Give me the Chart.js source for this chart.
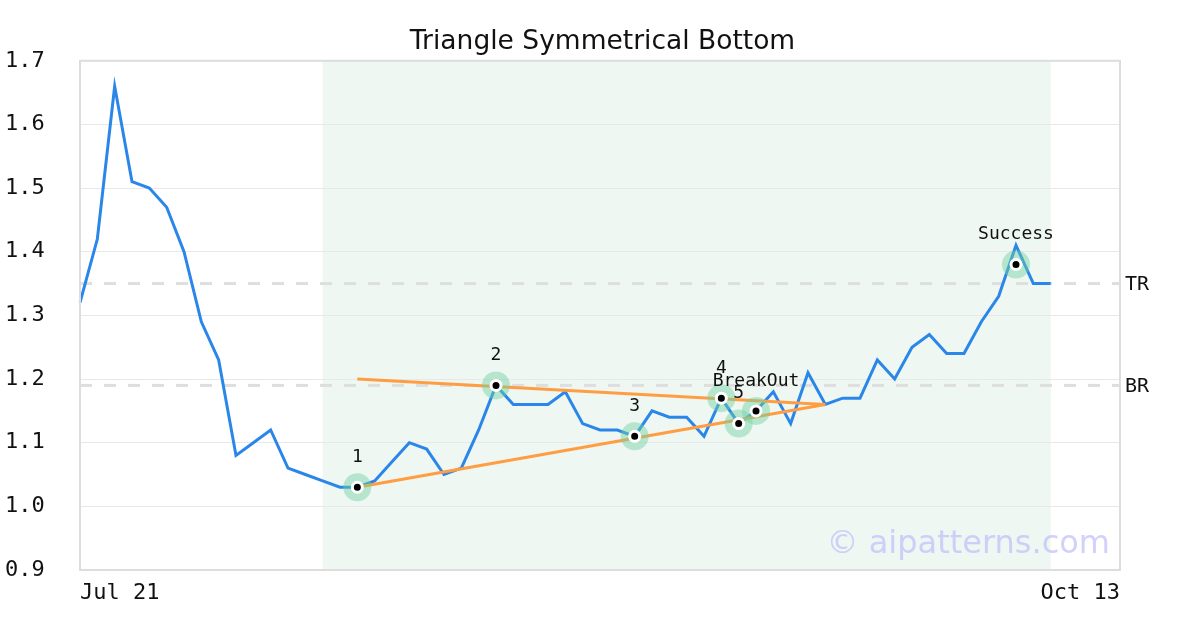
<!DOCTYPE html>
<html>
<head>
<meta charset="utf-8">
<script src="https://cdn.jsdelivr.net/npm/chart.js@4.4.1/dist/chart.umd.min.js"></script>
<style>
  html, body { margin: 0; padding: 0; background: #fff; }
</style>
</head>
<body>
<canvas id="myChart" width="1200" height="630"></canvas>
<script>
// trading days on the x axis
var dates = [
  'Jul 21','Jul 22','Jul 23','Jul 26','Jul 27','Jul 28','Jul 29','Jul 30',
  'Aug 2','Aug 3','Aug 4','Aug 5','Aug 6','Aug 9','Aug 10','Aug 11','Aug 12','Aug 13',
  'Aug 16','Aug 17','Aug 18','Aug 19','Aug 20','Aug 23','Aug 24','Aug 25','Aug 26','Aug 27',
  'Aug 30','Aug 31','Sep 1','Sep 2','Sep 3','Sep 6','Sep 7','Sep 8','Sep 9','Sep 10',
  'Sep 13','Sep 14','Sep 15','Sep 16','Sep 17','Sep 20','Sep 21','Sep 22','Sep 23','Sep 24',
  'Sep 27','Sep 28','Sep 29','Sep 30','Oct 1','Oct 4','Oct 5','Oct 6','Oct 7','Oct 8',
  'Oct 11','Oct 12','Oct 13'
];

// price
var prices = [
  1.32, 1.42, 1.66, 1.51, 1.50, 1.47, 1.40, 1.29, 1.23, 1.08,
  1.10, 1.12, 1.06, 1.05, 1.04, 1.03, 1.03, 1.04, 1.07, 1.10,
  1.09, 1.05, 1.06, 1.12, 1.19, 1.16, 1.16, 1.16, 1.18, 1.13,
  1.12, 1.12, 1.11, 1.15, 1.14, 1.14, 1.11, 1.17, 1.13, 1.15,
  1.18, 1.13, 1.21, 1.16, 1.17, 1.17, 1.23, 1.20, 1.25, 1.27,
  1.24, 1.24, 1.29, 1.33, 1.41, 1.35, 1.35
];

// pattern points
var markerIdx = [16, 24, 32, 37, 38, 39, 54];
var markerVal = [1.03, 1.19, 1.11, 1.17, 1.13, 1.15, 1.38];
var markerText = ['1', '2', '3', '4', '5', 'BreakOut', 'Success'];

// triangle sides: [start index, start value, end index, end value]
var upperSide = [16, 1.20, 43, 1.16];
var lowerSide = [16, 1.03, 43, 1.16];

// levels
var levelNames = ['TR', 'BR'];
var levelValues = [1.35, 1.19];

// pattern window
var shadeRange = [14, 56];

var yTicks = [0.9, 1.0, 1.1, 1.2, 1.3, 1.4, 1.5, 1.6, 1.7];

var markerData = markerIdx.map(function(i, k) { return { x: dates[i], y: markerVal[k] }; });

Chart.defaults.font.family = "'DejaVu Sans Mono', monospace";
Chart.defaults.color = '#111';

var decor = {
  id: 'decor',
  beforeDraw: function(chart) {
    var ctx = chart.ctx, a = chart.chartArea, xs = chart.scales.x;
    ctx.save();
    ctx.fillStyle = '#fff';
    ctx.fillRect(0, 0, chart.width, chart.height);
    var x1 = xs.getPixelForValue(shadeRange[0]);
    var x2 = xs.getPixelForValue(shadeRange[1]);
    ctx.fillStyle = '#eff7f3';
    ctx.fillRect(x1, a.top, x2 - x1, a.bottom - a.top);
    ctx.restore();
  },
  beforeDatasetsDraw: function(chart) {
    var ctx = chart.ctx, a = chart.chartArea, ys = chart.scales.y;
    ctx.save();
    ctx.strokeStyle = '#dedede';
    ctx.lineWidth = 3;
    ctx.setLineDash([12, 12]);
    ctx.font = "20px 'DejaVu Sans Mono'";
    ctx.fillStyle = '#111';
    ctx.textBaseline = 'middle';
    for (var i = 0; i < levelValues.length; i++) {
      var y = ys.getPixelForValue(levelValues[i]);
      ctx.beginPath();
      ctx.moveTo(a.left, y);
      ctx.lineTo(a.right, y);
      ctx.stroke();
      ctx.fillText(levelNames[i], a.right + 5, y + 1);
    }
    ctx.restore();
  },
  afterDatasetsDraw: function(chart) {
    var ctx = chart.ctx, a = chart.chartArea, xs = chart.scales.x, ys = chart.scales.y;
    ctx.save();
    // labels over the pattern points
    ctx.font = "18px 'DejaVu Sans Mono'";
    ctx.fillStyle = '#111';
    ctx.textAlign = 'center';
    ctx.textBaseline = 'middle';
    for (var i = 0; i < markerIdx.length; i++) {
      ctx.fillText(markerText[i], xs.getPixelForValue(markerIdx[i]), ys.getPixelForValue(markerVal[i]) - 30);
    }
    // frame
    ctx.strokeStyle = '#dddddd';
    ctx.lineWidth = 2;
    ctx.strokeRect(a.left, a.top, a.right - a.left, a.bottom - a.top);
    // watermark
    ctx.font = "32px 'DejaVu Sans'";
    ctx.fillStyle = 'rgba(190, 190, 250, 0.7)';
    ctx.textAlign = 'right';
    ctx.textBaseline = 'alphabetic';
    ctx.fillText('\u00a9 aipatterns.com', a.right - 10, a.bottom - 17);
    ctx.restore();
  }
};

var ctx = document.getElementById('myChart').getContext('2d');
window.myLine = new Chart(ctx, {
  type: 'line',
  data: {
    labels: dates,
    datasets: [{
      label: 'points',
      data: markerData,
      showLine: false,
      pointRadius: 5,
      pointBackgroundColor: '#000',
      pointBorderColor: '#fff',
      pointBorderWidth: 3,
      order: 0
    }, {
      label: 'halo',
      data: markerData,
      showLine: false,
      pointRadius: 14,
      pointBorderWidth: 0,
      pointBackgroundColor: 'rgba(110, 208, 160, 0.45)',
      order: 1
    }, {
      label: 'upper',
      data: [{ x: dates[upperSide[0]], y: upperSide[1] }, { x: dates[upperSide[2]], y: upperSide[3] }],
      borderColor: '#ff9d42',
      borderWidth: 3,
      pointRadius: 0,
      order: 2
    }, {
      label: 'lower',
      data: [{ x: dates[lowerSide[0]], y: lowerSide[1] }, { x: dates[lowerSide[2]], y: lowerSide[3] }],
      borderColor: '#ff9d42',
      borderWidth: 3,
      pointRadius: 0,
      order: 2
    }, {
      label: 'price',
      data: prices,
      borderColor: '#2a86e8',
      borderWidth: 3,
      pointRadius: 0,
      tension: 0,
      order: 3
    }]
  },
  options: {
    responsive: false,
    animation: false,
    events: [],
    layout: { padding: { left: 5, right: 0, top: 0, bottom: 0 } },
    plugins: {
      legend: { display: false },
      tooltip: { enabled: false },
      title: {
        display: true,
        text: 'Triangle Symmetrical Bottom',
        color: '#111',
        font: { family: "'DejaVu Sans'", size: 26.5, weight: 'normal' },
        padding: { top: 26, bottom: 3 }
      }
    },
    scales: {
      x: {
        type: 'category',
        grid: { display: false },
        border: { display: false },
        ticks: {
          autoSkip: false,
          maxRotation: 0,
          align: 'inner',
          padding: 2,
          font: { size: 22 },
          callback: function(v, i) {
            return (i === 0 || i === dates.length - 1) ? dates[i] : '';
          }
        },
        afterFit: function(s) { s.height = 60; }
      },
      y: {
        min: yTicks[0],
        max: yTicks[yTicks.length - 1],
        afterBuildTicks: function(s) { s.ticks = yTicks.map(function(v) { return { value: v }; }); },
        grid: { color: '#e8e8e8', lineWidth: 1, drawTicks: false },
        border: { display: false },
        ticks: {
          crossAlign: 'far',
          padding: 8,
          font: { size: 22 },
          callback: function(v) { return Number(v).toFixed(1); }
        },
        afterFit: function(s) { s.width = 75; }
      },
      // empty right side, room for the level names
      yRight: {
        position: 'right',
        min: yTicks[0],
        max: yTicks[yTicks.length - 1],
        grid: { display: false },
        border: { display: false },
        ticks: { display: false },
        afterFit: function(s) { s.width = 80; }
      }
    }
  },
  plugins: [decor]
});
</script>
</body>
</html>
